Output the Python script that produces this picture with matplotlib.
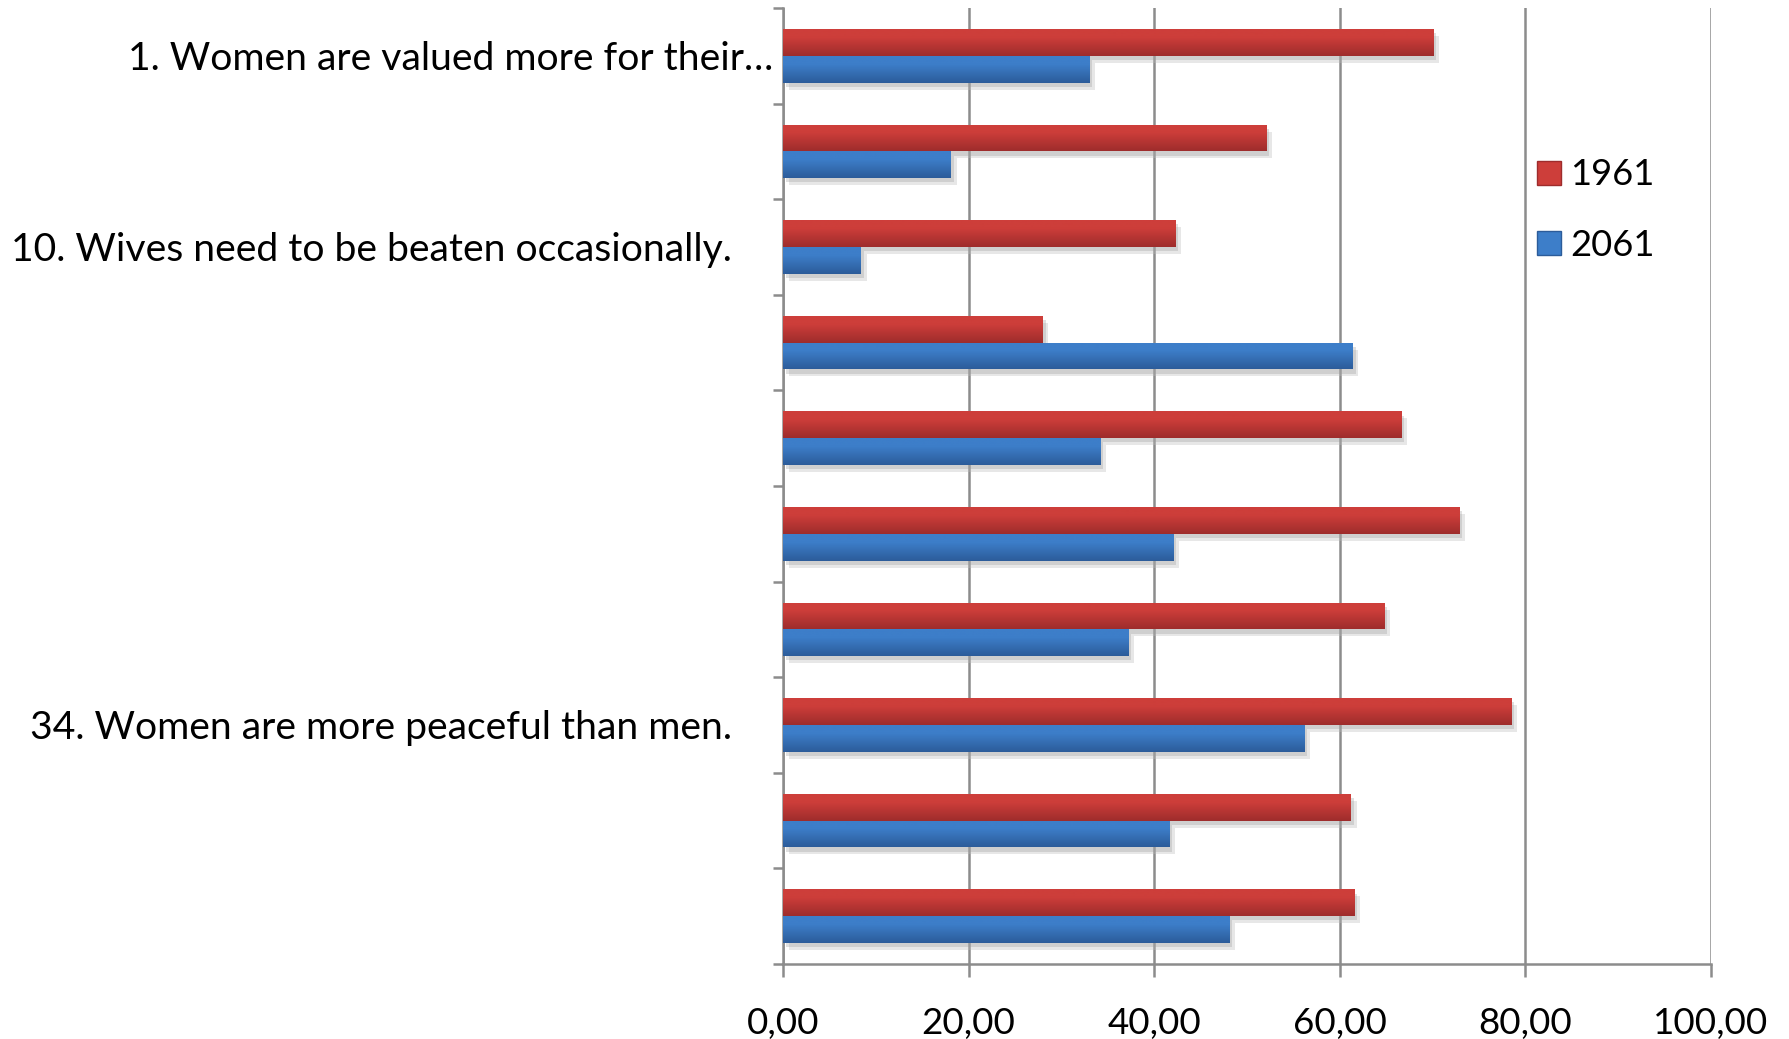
import matplotlib.pyplot as plt
import matplotlib.patheffects as pe
from matplotlib.patches import Patch
from matplotlib.ticker import FuncFormatter
import numpy as np

plt.rcParams['font.family'] = ['Lato', 'DejaVu Sans']

labels = ["1. Women are valued more for their\u2026", "",
          "10. Wives need to be beaten occasionally.", "", "", "", "",
          "34. Women are more peaceful than men.", "", ""]
s1961 = [70.1, 52.1, 42.3, 28.0, 66.6, 72.9, 64.8, 78.5, 61.2, 61.6]
s2061 = [33.0, 18.1, 8.4, 61.4, 34.2, 42.1, 37.2, 56.2, 41.6, 48.1]
years = ["1961", "2061"]

red_top, red_bot = np.array([205, 62, 58]) / 255, np.array([158, 44, 44]) / 255
blue_top, blue_bot = np.array([61, 126, 201]) / 255, np.array([44, 92, 154]) / 255

fig = plt.figure(figsize=(17.89, 10.39), dpi=100)
ax = fig.add_axes([0.4377, 0.0722, 0.5187, 0.9201])

y = np.arange(len(labels))
h = 0.28
shadow = [pe.SimplePatchShadow(offset=(4, -5), shadow_rgbFace='#bbbbbb', alpha=0.35),
          pe.SimplePatchShadow(offset=(2, -3), shadow_rgbFace='#999999', alpha=0.3),
          pe.Normal()]


def grad_bars(vals, pos, c_top, c_bot):
    bars = ax.barh(pos, vals, height=h, color=c_top, zorder=3, path_effects=shadow)
    t = np.linspace(0, 1, 64)
    # lighter on top, darker towards the bottom edge
    w = np.clip((t - 0.3) / 0.7, 0, 1)[:, None]
    img = (c_top[None, :] * (1 - w) + c_bot[None, :] * w)[:, None, :]
    for b in bars:
        x0, yb = b.get_x(), b.get_y()
        im = ax.imshow(img, extent=(x0, x0 + b.get_width(), yb + h, yb),
                       origin='upper', aspect='auto', zorder=4)
        im.set_clip_path(b)
    return bars


grad_bars(s1961, y - h / 2, red_top, red_bot)
grad_bars(s2061, y + h / 2, blue_top, blue_bot)

ax.set_xlim(0, 100)
ax.set_ylim(len(labels) - 0.5, -0.5)
ax.set_xticks(np.arange(0, 101, 20))
ax.xaxis.set_major_formatter(FuncFormatter(lambda v, p: f"{v:.2f}".replace('.', ',')))
ax.grid(axis='x', color='#8c8c8c', linewidth=1.8, zorder=0)
ax.set_axisbelow(True)

ax.set_yticks(y)
ax.set_yticklabels(labels)
ax.set_yticks(np.arange(-0.5, len(labels)), minor=True)
ax.tick_params(axis='y', which='major', length=0, labelsize=28.2)
ax.tick_params(axis='y', which='minor', length=7, width=1.8, color='#8c8c8c')
ax.tick_params(axis='x', length=9, width=1.8, color='#8c8c8c', labelsize=26.5, pad=22)
for i, tk in enumerate(ax.yaxis.get_major_ticks()):
    tk.set_pad(7 if i == 0 else 37)

for side in ['top', 'right']:
    ax.spines[side].set_visible(False)
for side in ['left', 'bottom']:
    ax.spines[side].set_color('#8c8c8c')
    ax.spines[side].set_linewidth(1.8)

handles = [Patch(facecolor=red_top, edgecolor=red_bot), Patch(facecolor=blue_top, edgecolor=blue_bot)]
fig.legend(handles, years, loc='upper left', bbox_to_anchor=(0.841, 0.879),
           frameon=False, fontsize=26.2, handlelength=0.65, handleheight=0.65,
           handletextpad=0.25, labelspacing=1.02)

fig.savefig('out.png', dpi=100)
